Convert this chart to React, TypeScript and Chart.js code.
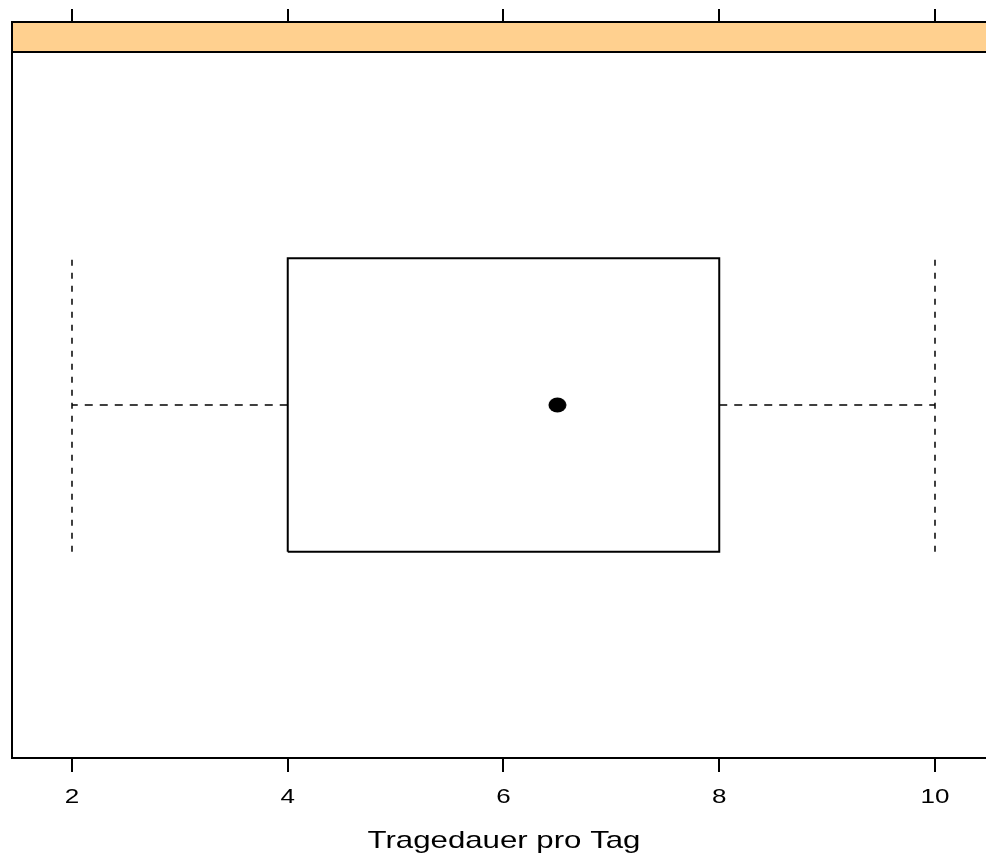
import React, { useEffect, useRef } from "react";
import { Chart, registerables } from "chart.js";

Chart.register(...registerables);

// ---- data ----
const variableLabel = "Tragedauer pro Tag";
const stripLabels = [""];
const whiskerLow = [2];
const quartile1 = [4];
const medians = [6.5];
const quartile3 = [8];
const whiskerHigh = [10];
const xTickValues = [2, 4, 6, 8, 10];
const xTickLabels = ["2", "4", "6", "8", "10"];

// ---- layout / style constants ----
const W = 986;
const H = 856;
const X_MIN = 1.4438;
const X_MAX = 10.4728;
const BOX_HALF = 0.208;
const CENTER = 0.5;
const STRIP_TOP = 22;
const TEXT_STRETCH = 1.3;
const FONT = '"Liberation Sans", Arial, Helvetica, sans-serif';

function makeDot(): HTMLCanvasElement {
  const c = document.createElement("canvas");
  c.width = 19;
  c.height = 16;
  const g = c.getContext("2d")!;
  g.fillStyle = "#000";
  g.beginPath();
  g.ellipse(9.5, 8, 9, 7.5, 0, 0, Math.PI * 2);
  g.fill();
  return c;
}

const framePlugin = {
  id: "latticeFrame",
  afterDraw(chart: any) {
    const { ctx, chartArea, scales } = chart;
    const xs = scales.x;
    const left = chartArea.left;
    const right = W + 2;
    const bottom = chartArea.bottom;
    const top = chartArea.top;
    ctx.save();
    // strip
    ctx.fillStyle = "#FFD08F";
    ctx.fillRect(left, STRIP_TOP, right - left, top - STRIP_TOP);
    ctx.strokeStyle = "#000";
    ctx.lineWidth = 2;
    ctx.beginPath();
    ctx.moveTo(right, STRIP_TOP);
    ctx.lineTo(left, STRIP_TOP);
    ctx.lineTo(left, bottom);
    ctx.lineTo(right, bottom);
    ctx.moveTo(left, top);
    ctx.lineTo(right, top);
    ctx.stroke();
    // ticks top & bottom
    ctx.beginPath();
    xTickValues.forEach((v) => {
      const px = Math.round(xs.getPixelForValue(v));
      ctx.moveTo(px, STRIP_TOP - 13);
      ctx.lineTo(px, STRIP_TOP);
      ctx.moveTo(px, bottom);
      ctx.lineTo(px, bottom + 14);
    });
    ctx.stroke();
    // tick labels
    ctx.fillStyle = "#000";
    ctx.textAlign = "center";
    ctx.textBaseline = "alphabetic";
    ctx.font = `20px ${FONT}`;
    xTickValues.forEach((v, i) => {
      const px = xs.getPixelForValue(v);
      ctx.save();
      ctx.translate(px, bottom + 45);
      ctx.scale(TEXT_STRETCH, 1);
      ctx.fillText(xTickLabels[i], 0, 0);
      ctx.restore();
    });
    // axis title
    ctx.font = `24px ${FONT}`;
    ctx.save();
    ctx.translate(504, bottom + 90);
    ctx.scale(TEXT_STRETCH, 1);
    ctx.fillText(variableLabel, 0, 0);
    ctx.restore();
    ctx.restore();
  },
};

export default function App() {
  const ref = useRef<HTMLCanvasElement | null>(null);
  useEffect(() => {
    if (!ref.current) return;
    const i = 0;
    const lo = CENTER - BOX_HALF;
    const hi = CENTER + BOX_HALF;
    const chart = new Chart(ref.current, {
      type: "scatter",
      data: {
        datasets: [
          {
            label: "box",
            data: [
              { x: quartile1[i], y: lo },
              { x: quartile3[i], y: lo },
              { x: quartile3[i], y: hi },
              { x: quartile1[i], y: hi },
              { x: quartile1[i], y: lo },
            ],
            showLine: true,
            borderColor: "#000",
            borderWidth: 2,
            pointRadius: 0,
            fill: false,
          },
          {
            label: "whiskerLow",
            data: [
              { x: quartile1[i], y: CENTER },
              { x: whiskerLow[i], y: CENTER },
            ],
            showLine: true,
            borderColor: "#000",
            borderWidth: 1.5,
            borderDash: [8, 7],
            pointRadius: 0,
          },
          {
            label: "whiskerHigh",
            data: [
              { x: quartile3[i], y: CENTER },
              { x: whiskerHigh[i], y: CENTER },
            ],
            showLine: true,
            borderColor: "#000",
            borderWidth: 1.5,
            borderDash: [8, 7],
            pointRadius: 0,
          },
          {
            label: "capLow",
            data: [
              { x: whiskerLow[i], y: lo },
              { x: whiskerLow[i], y: hi },
            ],
            showLine: true,
            borderColor: "#000",
            borderWidth: 1.5,
            borderDash: [6, 7],
            pointRadius: 0,
          },
          {
            label: "capHigh",
            data: [
              { x: whiskerHigh[i], y: lo },
              { x: whiskerHigh[i], y: hi },
            ],
            showLine: true,
            borderColor: "#000",
            borderWidth: 1.5,
            borderDash: [6, 7],
            pointRadius: 0,
          },
          {
            label: "median",
            data: [{ x: medians[i], y: CENTER }],
            pointStyle: makeDot() as any,
            pointRadius: 8,
            showLine: false,
          },
        ],
      },
      options: {
        responsive: false,
        animation: false,
        layout: { autoPadding: false, padding: { left: 12, top: 52, right: 0, bottom: H - 758 } },
        plugins: {
          legend: { display: false },
          tooltip: { enabled: false },
          title: { display: false },
        },
        scales: {
          x: { type: "linear", min: X_MIN, max: X_MAX, display: false },
          y: { type: "linear", min: 0, max: 1, display: false },
        },
      },
      plugins: [framePlugin],
    });
    return () => chart.destroy();
  }, []);
  return (
    <div style={{ position: "fixed", left: 0, top: 0, width: W, height: H, overflow: "hidden", background: "#fff" }}>
      <canvas ref={ref} width={W} height={H} style={{ width: W, height: H, display: "block" }} data-strip={stripLabels.join("")} />
    </div>
  );
}
